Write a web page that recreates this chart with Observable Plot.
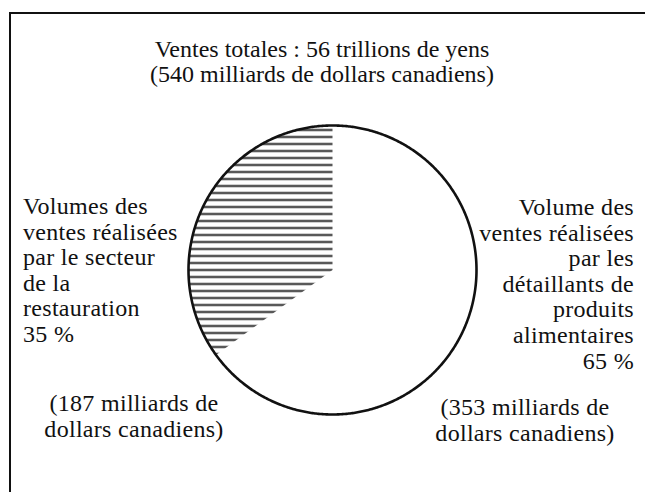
<!DOCTYPE html>
<html>
<head>
<meta charset="utf-8">
<script src="https://cdn.jsdelivr.net/npm/d3@7"></script>
<script src="https://cdn.jsdelivr.net/npm/@observablehq/plot@0.6"></script>
<style>
  html, body { margin: 0; padding: 0; background: #fff; }
  #wrap { position: relative; width: 645px; height: 492px; overflow: hidden;
          font-family: "Liberation Serif", "DejaVu Serif", serif; color: #111; }
  #frame { position: absolute; left: 9px; top: 12px; right: -10px; bottom: -10px;
           border-top: 2px solid #111; border-left: 2px solid #111; }
  #chart { position: absolute; left: 0; top: 0; }
  .lbl { position: absolute; font-size: 24px; line-height: 25.6px; letter-spacing: 0.3px; white-space: nowrap; }
  .title { position: absolute; font-size: 24px; line-height: 25px; white-space: nowrap; text-align: center; width: 500px; }
</style>
</head>
<body>
<div id="wrap">
  <div id="frame"></div>
  <div id="chart"></div>
</div>
<script>
// ---- data ----
const categories = ["détaillants de produits alimentaires", "secteur de la restauration"];
const shares = [65, 35];                 // %
const amountsCAD = [353, 187];           // milliards de dollars canadiens
const totalYen = 56;                     // trillions de yens
const totalCAD = 540;                    // milliards de dollars canadiens
const titleLines = [
  `Ventes totales : ${totalYen} trillions de yens`,
  `(${totalCAD} milliards de dollars canadiens)`
];
const rightLabel = ["Volume des", "ventes réalisées", "par les", "détaillants de", "produits", "alimentaires", `${shares[0]} %`];
const leftLabel = ["Volumes des", "ventes réalisées", "par le secteur", "de la", "restauration", `${shares[1]} %`];
const amountLabels = amountsCAD.map(v => [`(${v} milliards de`, "dollars canadiens)"]);

// ---- pie geometry via d3.pie ----
const slices = categories.map((c, i) => ({category: c, share: shares[i]}));
const arcs = d3.pie().sort(null).value(d => d.share)(slices);
function arcPoints(a0, a1) {
  const n = Math.max(2, Math.ceil((a1 - a0) / (Math.PI / 360)));
  return d3.range(n + 1).map(i => {
    const a = a0 + (a1 - a0) * i / n;
    return {x: Math.sin(a), y: Math.cos(a)};
  });
}
const sectors = arcs.map(a => [{x: 0, y: 0}, ...arcPoints(a.startAngle, a.endAngle), {x: 0, y: 0}]);
const outline = arcs.flatMap(a => arcPoints(a.startAngle, a.endAngle));

const svg = Plot.plot({
  width: 645,
  height: 492,
  margin: 0,
  style: {background: "transparent", overflow: "visible"},
  x: {domain: [-1, 1], range: [188, 476], axis: null},
  y: {domain: [-1, 1], range: [414, 125], axis: null},
  marks: [
    Plot.line(sectors[0], {x: "x", y: "y", fill: "white", stroke: "none"}),
    Plot.line(sectors[1], {x: "x", y: "y", fill: "url(#hatch)", stroke: "none"}),
    Plot.line(outline, {x: "x", y: "y", stroke: "#111", strokeWidth: 2.6, curve: "linear"})
  ]
});
const ns = "http://www.w3.org/2000/svg";
const defs = document.createElementNS(ns, "defs");
defs.innerHTML = `<pattern id="hatch" patternUnits="userSpaceOnUse" x="0" y="0" width="10" height="7">
  <rect width="10" height="7" fill="white"/>
  <rect x="0" y="2.6" width="10" height="1.8" fill="#111"/>
</pattern>`;
svg.insertBefore(defs, svg.firstChild);
document.getElementById("chart").appendChild(svg);

// ---- text ----
const wrap = document.getElementById("wrap");
function addBlock(lines, cls, css) {
  const d = document.createElement("div");
  d.className = cls;
  d.innerHTML = lines.map(s => s.replace(/&/g, "&amp;").replace(/</g, "&lt;")).join("<br>");
  Object.assign(d.style, css);
  wrap.appendChild(d);
}
addBlock(titleLines, "title", {left: "72px", top: "37px"});
addBlock(leftLabel, "lbl", {left: "23px", top: "194px"});
addBlock(rightLabel, "lbl", {right: "11px", top: "195px", textAlign: "right"});
addBlock(amountLabels[1], "lbl", {left: "34px", top: "391px", width: "200px", textAlign: "center"});
addBlock(amountLabels[0], "lbl", {left: "425px", top: "395px", width: "200px", textAlign: "center"});
</script>
</body>
</html>
